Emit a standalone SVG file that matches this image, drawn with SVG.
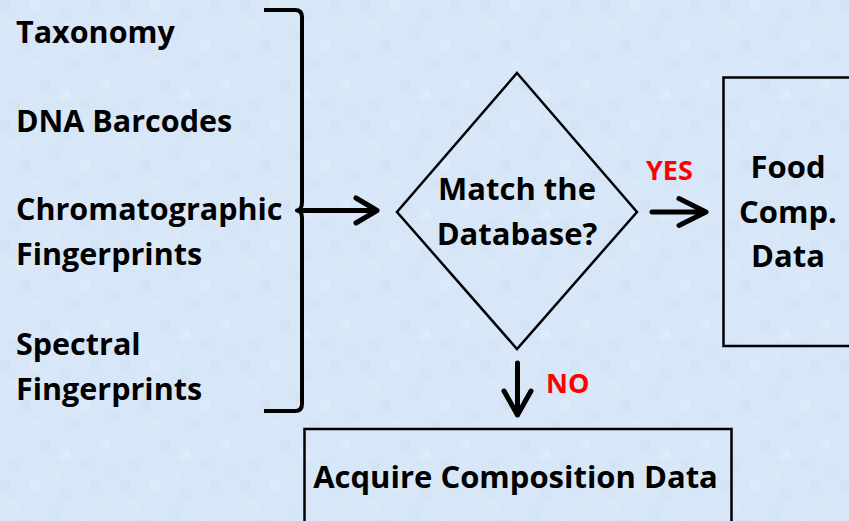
<svg xmlns="http://www.w3.org/2000/svg" width="849" height="521" viewBox="0 0 849 521">
  <style>
    .lbl { font-family: "Open Sans", "Noto Sans", "Liberation Sans", sans-serif; font-weight: bold; font-size: 31px; fill: #000; }
    .side { font-size: 30.5px; }
    .ctr { text-anchor: middle; }
    .red { fill: #ff0000; font-size: 27px; }
    .edge { fill: none; stroke: #000; stroke-width: 5; stroke-linecap: round; stroke-linejoin: round; }
    .brace { fill: none; stroke: #000; stroke-width: 4; stroke-linejoin: round; }
    .shape { fill: none; stroke: #000; stroke-width: 2.5; }
  </style>
  <defs>
    <!-- soft mosaic backdrop -->
    <pattern id="tiles" width="120" height="120" patternUnits="userSpaceOnUse">
      <rect width="120" height="120" fill="#d8e7f7"/>
      <rect x="0" y="0" width="10" height="10" fill="#d4e4f5"/>
      <rect x="30" y="0" width="10" height="10" fill="#dbe9f8"/>
      <rect x="90" y="0" width="10" height="10" fill="#d3e4f5"/>
      <rect x="60" y="10" width="10" height="10" fill="#d3e4f5"/>
      <rect x="10" y="20" width="10" height="10" fill="#dceaf8"/>
      <rect x="100" y="20" width="10" height="10" fill="#dae8f8"/>
      <rect x="50" y="30" width="10" height="10" fill="#d4e5f5"/>
      <rect x="80" y="40" width="10" height="10" fill="#dce9f8"/>
      <rect x="20" y="40" width="10" height="10" fill="#d3e3f4"/>
      <rect x="110" y="50" width="10" height="10" fill="#d4e4f5"/>
      <rect x="30" y="60" width="10" height="10" fill="#dae8f8"/>
      <rect x="70" y="60" width="10" height="10" fill="#d4e4f5"/>
      <rect x="0" y="70" width="10" height="10" fill="#d9e8f8"/>
      <rect x="100" y="80" width="10" height="10" fill="#dbe9f8"/>
      <rect x="40" y="80" width="10" height="10" fill="#d3e3f4"/>
      <rect x="60" y="90" width="10" height="10" fill="#dceaf9"/>
      <rect x="10" y="100" width="10" height="10" fill="#d4e4f5"/>
      <rect x="80" y="100" width="10" height="10" fill="#d3e4f5"/>
      <rect x="50" y="110" width="10" height="10" fill="#dae8f8"/>
      <rect x="110" y="110" width="10" height="10" fill="#d4e5f5"/>
    </pattern>
  </defs>

  <rect width="849" height="521" fill="url(#tiles)"/>

  <!-- inputs -->
  <g id="inputs">
    <text class="lbl side" x="16" y="43">Taxonomy</text>
    <text class="lbl side" x="16" y="132">DNA Barcodes</text>
    <text class="lbl side" x="16" y="220">Chromatographic</text>
    <text class="lbl side" x="16" y="265">Fingerprints</text>
    <text class="lbl side" x="16" y="355">Spectral</text>
    <text class="lbl side" x="16" y="400">Fingerprints</text>
  </g>

  <!-- decision -->
  <g id="decision">
    <polygon class="shape" points="517,73 637,212 517,349 397,212"/>
    <text class="lbl ctr" x="517" y="200">Match the</text>
    <text class="lbl ctr" x="517" y="245">Database?</text>
  </g>

  <!-- match found -->
  <g id="food-comp">
    <rect class="shape" x="723.5" y="77.5" width="140" height="268.5"/>
    <text class="lbl ctr" x="788" y="178">Food</text>
    <text class="lbl ctr" x="788" y="223">Comp.</text>
    <text class="lbl ctr" x="788" y="267">Data</text>
  </g>

  <!-- no match -->
  <g id="acquire">
    <rect class="shape" x="304.5" y="429" width="427" height="110"/>
    <text class="lbl ctr" x="515.5" y="488">Acquire Composition Data</text>
  </g>

  <!-- connectors -->
  <g id="connectors">
    <path class="brace" d="M264,10 H295 Q302,10 302,17 V202 Q302,210 297,210.5 Q302,211 302,218 V404 Q302,411 295,411 H264"/>
    <path class="edge" d="M303,210.5 H377 M356,198 L377,210.5 L356,223"/>
    <path class="edge" d="M652,212 H706 M679,198.5 L706,212 L679,225.5"/>
    <path class="edge" d="M517.5,363 V415 M504,391 L517.5,415 L531,391"/>
    <text class="lbl red" x="646" y="180">YES</text>
    <text class="lbl red" x="546" y="393">NO</text>
  </g>
</svg>
